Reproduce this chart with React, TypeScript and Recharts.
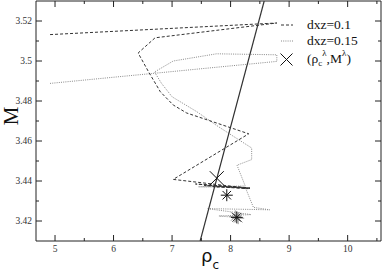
import { ScatterChart, Scatter, XAxis, YAxis, Legend } from "recharts";

// dxz = 0.1 (dashed)
const rhoA = [4.915, 8.79, 6.71, 6.42, 6.6, 6.8, 7.02, 7.25, 8.31, 7.02, 8.33, 7.4, 8.33, 7.55, 8.3, 7.7, 8.3];
const mA = [3.5132, 3.519, 3.5116, 3.504, 3.4945, 3.4846, 3.478, 3.474, 3.4636, 3.4408, 3.4363, 3.4385, 3.4365, 3.4378, 3.4362, 3.4372, 3.4366];

// dxz = 0.15 (dotted)
const rhoB = [4.915, 8.79, 8.79, 7.76, 7.02, 6.7, 6.82, 7.0, 7.42, 7.79, 8.05, 8.36, 8.36, 8.11, 8.25, 7.45, 8.25, 8.39, 8.67, 7.6, 8.35, 7.8, 8.1];
const mB = [3.4888, 3.4998, 3.5031, 3.5036, 3.5, 3.4945, 3.4888, 3.4821, 3.4747, 3.4672, 3.4623, 3.4565, 3.4507, 3.4479, 3.4375, 3.4371, 3.4369, 3.4268, 3.4256, 3.4262, 3.4232, 3.4225, 3.4218];

// lambda line
const lambdaRho = [7.48, 8.574];
const lambdaM = [3.41, 3.53];

// (rho_c^lambda, M^lambda)
const critRho = [7.764];
const critM = [3.4414];

// end points (asterisks)
const starRho = [7.935, 8.106];
const starM = [3.4329, 3.4218];
const starGrayRho = [8.08, 8.13];
const starGrayM = [3.4223, 3.4214];

const xTicks = [5, 5.5, 6, 6.5, 7, 7.5, 8, 8.5, 9, 9.5, 10, 10.5];
const xMajor = [5, 6, 7, 8, 9, 10];
const yTicks = [3.42, 3.43, 3.44, 3.45, 3.46, 3.47, 3.48, 3.49, 3.5, 3.51, 3.52];
const yMajor = [3.42, 3.44, 3.46, 3.48, 3.5, 3.52];

const toPts = (xs: number[], ys: number[]) => xs.map((rho, i) => ({ rho, M: ys[i] }));

const serif = "'Liberation Serif', 'DejaVu Serif', serif";
const axisColor = "#222";

function XTick(props: any) {
  const { x, y, payload, dir, showLabel } = props;
  const major = xMajor.includes(payload.value);
  const len = major ? 6 : 3;
  return (
    <g>
      <line x1={x} x2={x} y1={y} y2={y + dir * len} stroke={axisColor} strokeWidth={1} />
      {showLabel && major && (
        <text x={x} y={y + 11} textAnchor="middle" fontFamily={serif} fontSize={9.5} fill="#333">
          {payload.value}
        </text>
      )}
    </g>
  );
}

function YTick(props: any) {
  const { x, y, payload, dir, showLabel } = props;
  const major = yMajor.includes(payload.value);
  const len = major ? 6 : 3;
  return (
    <g>
      <line x1={x} x2={x + dir * len} y1={y} y2={y} stroke={axisColor} strokeWidth={1} />
      {showLabel && major && (
        <text x={x - 4} y={y + 3.3} textAnchor="end" fontFamily={serif} fontSize={9.5} fill="#333">
          {String(payload.value)}
        </text>
      )}
    </g>
  );
}

const noDot = () => <g />;

function Asterisk(props: any) {
  const { cx, cy, color } = props;
  const r = 6;
  const d = r * 0.707;
  return (
    <g stroke={color} strokeWidth={1}>
      <line x1={cx - r} x2={cx + r} y1={cy} y2={cy} />
      <line x1={cx} x2={cx} y1={cy - r} y2={cy + r} />
      <line x1={cx - d} x2={cx + d} y1={cy - d} y2={cy + d} />
      <line x1={cx - d} x2={cx + d} y1={cy + d} y2={cy - d} />
    </g>
  );
}

function Cross(props: any) {
  const { cx, cy } = props;
  const r = 7;
  return (
    <g stroke="#111" strokeWidth={1}>
      <line x1={cx - r} x2={cx + r} y1={cy - r} y2={cy + r} />
      <line x1={cx - r} x2={cx + r} y1={cy + r} y2={cy - r} />
    </g>
  );
}

function LegendBox() {
  return (
    <svg width={100} height={60} style={{ display: "block" }}>
      <line x1={3} x2={15} y1={11} y2={11} stroke="#333" strokeDasharray="3 2" />
      <text x={29} y={15} fontFamily={serif} fontSize={13.5} fill="#111">dxz=0.1</text>
      <line x1={3} x2={15} y1={27} y2={27} stroke="#888" strokeDasharray="1 1.2" />
      <text x={29} y={31} fontFamily={serif} fontSize={13.5} fill="#111">dxz=0.15</text>
      <g stroke="#111" strokeWidth={1}>
        <line x1={2.5} x2={14.5} y1={39.5} y2={51.5} />
        <line x1={2.5} x2={14.5} y1={51.5} y2={39.5} />
      </g>
      <text x={29} y={49} fontFamily={serif} fontSize={13.5} fill="#111">
        (ρ
        <tspan dy={3} fontSize={9}>c</tspan>
        <tspan dy={-10} fontSize={9}>λ</tspan>
        <tspan dy={7} fontSize={13.5}>,M</tspan>
        <tspan dy={-7} fontSize={9}>λ</tspan>
        <tspan dy={7} fontSize={13.5}>)</tspan>
      </text>
    </svg>
  );
}

export default function App() {
  return (
    <div style={{ position: "absolute", left: 0, top: 0, background: "#fff" }}>
      <ScatterChart width={382} height={272} margin={{ top: 0, right: 0, bottom: 30, left: 35 }}>
        <XAxis
          xAxisId="b"
          type="number"
          dataKey="rho"
          domain={[4.675, 10.57]}
          ticks={xTicks}
          interval={0}
          height={1}
          tickSize={0}
          tickMargin={0}
          tickLine={false}
          axisLine={{ stroke: axisColor }}
          allowDataOverflow
          tick={(p: any) => <XTick {...p} dir={-1} showLabel />}
          label={{
            content: () => (
              <text x={201} y={262} fontFamily="'DejaVu Sans', sans-serif" fontSize={18} fill="#111">
                ρ<tspan dy={6.5} fontSize={12}>c</tspan>
              </text>
            ),
          }}
        />
        <XAxis
          xAxisId="t"
          orientation="top"
          type="number"
          dataKey="rho"
          domain={[4.675, 10.57]}
          ticks={xTicks}
          interval={0}
          height={1}
          tickSize={0}
          tickMargin={0}
          tickLine={false}
          axisLine={{ stroke: axisColor }}
          allowDataOverflow
          tick={(p: any) => <XTick {...p} dir={1} />}
        />
        <YAxis
          yAxisId="l"
          type="number"
          dataKey="M"
          domain={[3.41, 3.53]}
          ticks={yTicks}
          interval={0}
          width={1}
          tickSize={0}
          tickMargin={0}
          tickLine={false}
          axisLine={{ stroke: axisColor }}
          allowDataOverflow
          tick={(p: any) => <YTick {...p} dir={1} showLabel />}
          label={{
            content: () => (
              <text
                x={18}
                y={116}
                transform="rotate(-90 18 116)"
                textAnchor="middle"
                fontFamily={serif}
                fontSize={21}
                fill="#111"
              >
                M
              </text>
            ),
          }}
        />
        <YAxis
          yAxisId="r"
          orientation="right"
          type="number"
          dataKey="M"
          domain={[3.41, 3.53]}
          ticks={yTicks}
          interval={0}
          width={1}
          tickSize={0}
          tickMargin={0}
          tickLine={false}
          axisLine={{ stroke: axisColor }}
          allowDataOverflow
          tick={(p: any) => <YTick {...p} dir={-1} />}
        />

        <Scatter
          xAxisId="b"
          yAxisId="l"
          name="dxz=0.15"
          data={toPts(rhoB, mB)}
          fill="#8a8a8a"
          line={{ stroke: "#8a8a8a", strokeWidth: 1, strokeDasharray: "1 1.2" }}
          shape={noDot}
          isAnimationActive={false}
        />
        <Scatter
          xAxisId="b"
          yAxisId="l"
          name="dxz=0.1"
          data={toPts(rhoA, mA)}
          fill="#333"
          line={{ stroke: "#333", strokeWidth: 1, strokeDasharray: "3 2" }}
          shape={noDot}
          isAnimationActive={false}
        />
        <Scatter
          xAxisId="b"
          yAxisId="l"
          name="lambda"
          data={toPts(lambdaRho, lambdaM)}
          fill="#333"
          line={{ stroke: "#333", strokeWidth: 1.2 }}
          shape={noDot}
          isAnimationActive={false}
        />
        <Scatter
          xAxisId="b"
          yAxisId="l"
          name="gray stars"
          data={toPts(starGrayRho, starGrayM)}
          fill="#888"
          shape={(p: any) => <Asterisk {...p} color="#999" />}
          isAnimationActive={false}
        />
        <Scatter
          xAxisId="b"
          yAxisId="l"
          name="stars"
          data={toPts(starRho, starM)}
          fill="#111"
          shape={(p: any) => <Asterisk {...p} color="#111" />}
          isAnimationActive={false}
        />
        <Scatter
          xAxisId="b"
          yAxisId="l"
          name="crit"
          data={toPts(critRho, critM)}
          fill="#111"
          shape={Cross}
          isAnimationActive={false}
        />
        <Legend
          layout="vertical"
          align="center"
          verticalAlign="middle"
          wrapperStyle={{ position: "absolute", left: 278, top: 14, width: 100, height: 60 }}
          content={() => <LegendBox />}
        />
      </ScatterChart>
    </div>
  );
}
